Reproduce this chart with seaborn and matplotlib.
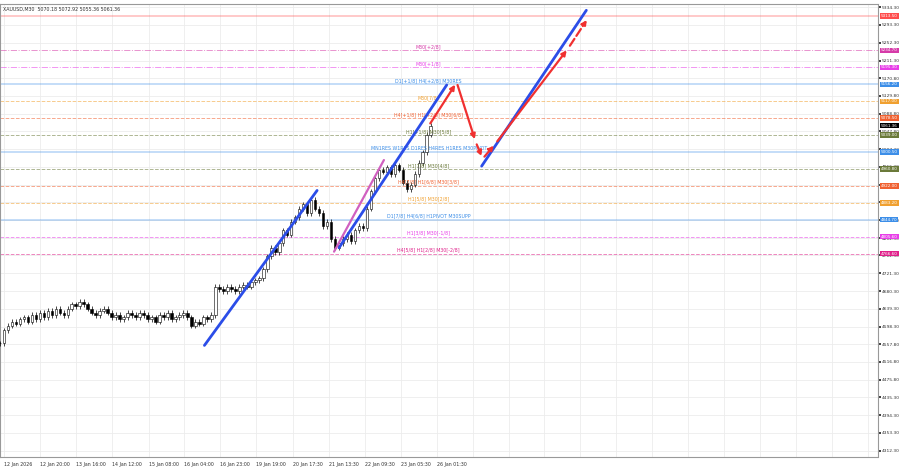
import numpy as np
import pandas as pd
import matplotlib.pyplot as plt
import seaborn as sns

# ---- data ----
closes = [4560, 4590, 4600, 4610, 4605, 4615,
          4620, 4610, 4625, 4615, 4630, 4620, 4635, 4625, 4640, 4630,
          4625, 4640, 4650, 4645, 4655, 4650, 4640, 4630, 4625, 4635,
          4640, 4630, 4620, 4625, 4615, 4620, 4630, 4625, 4620, 4630,
          4625, 4615, 4620, 4610, 4625, 4620, 4630, 4615, 4620, 4625,
          4630, 4620, 4600, 4610, 4605, 4620, 4615, 4625,
          4690, 4685, 4680, 4690, 4685, 4680, 4690, 4695, 4690, 4700,
          4705, 4710, 4730, 4760, 4780, 4770, 4790, 4820, 4810, 4840,
          4850, 4870, 4880, 4860, 4890, 4870, 4860, 4830, 4840, 4800,
          4780, 4790, 4800, 4810, 4795, 4820, 4830, 4825, 4870, 4910,
          4940, 4960, 4955, 4965, 4950, 4970, 4960, 4930, 4915, 4925,
          4950, 4975, 5000, 5040, 5061.36]

level_prices = [5313.5, 5234.7, 5195.3, 5156.2, 5117.0, 5078.5, 5039.0, 5000.5,
                4960.8, 4922.0, 4883.2, 4844.7, 4805.6, 4766.6]
level_labels = ["", "M30[+2/8]", "M30[+1/8]", "D1[+1/8] H4[+2/8] M30RES", "M30[7/8]",
                "H4[+1/8] H1[+2/8] M30[6/8]", "H1[+1/8] M30[5/8]",
                "MN1RES W1RES D1RES H4RES H1RES M30PIVOT", "H1[7/8] M30[4/8]",
                "H4[7/8] H1[6/8] M30[3/8]", "H1[5/8] M30[2/8]",
                "D1[7/8] H4[6/8] H1PIVOT M30SUPP", "H1[3/8] M30[-1/8]",
                "H4[5/8] H1[2/8] M30[-2/8]"]
level_colors = ["#ff4d4d", "#d63aa8", "#e83ee8", "#3c8ee8", "#f0a030", "#f06030", "#6b7a3a",
                "#3c8ee8", "#6b7a3a", "#f06030", "#f0a030", "#3c8ee8", "#e83ee8", "#e0208a"]
level_styles = ["-", "-.", "-.", "-", "--", "--", "--", "-", "--", "--", "--", "-", "--", "--"]

y_ticks = [5334.30, 5293.30, 5252.30, 5211.30, 5170.80, 5129.80, 5088.80, 5047.80, 5007.30,
           4966.30, 4925.30, 4884.30, 4843.30, 4802.30, 4762.30, 4721.30, 4680.30, 4639.30,
           4598.30, 4557.80, 4516.80, 4475.80, 4435.30, 4394.30, 4353.30, 4312.30]
x_tick_pos = [4, 40, 76, 112, 149, 185, 221, 257, 294, 330, 366, 402, 438]
x_tick_labels = ["12 Jan 2026", "12 Jan 20:00", "13 Jan 16:00", "14 Jan 12:00", "15 Jan 08:00",
                 "16 Jan 04:00", "16 Jan 23:00", "19 Jan 19:00", "20 Jan 17:30", "21 Jan 13:30",
                 "22 Jan 09:30", "23 Jan 05:30", "26 Jan 01:30"]

# channel lines and projected path (bar position, price)
blue_lines = [((205, 4555), (318, 4912)), ((340, 4780), (448, 5155)), ((483, 4968), (588, 5327))]
pink_line = ((335, 4771), (385, 4982))
red_path = [(430, 5061), (458, 5161), (477, 5024), (484, 4985), (497, 5020), (570, 5240), (590, 5310)]
red_dashed = [False, False, True, True, False, True]

sns.set_theme(style="white")
plt.rcParams['font.family'] = ['DejaVu Sans']

fig = plt.figure(figsize=(9, 4.74), dpi=100)
ax = fig.add_axes([0.0, 0.035, 0.975, 0.957])

df = pd.DataFrame({"close": closes})
df["x"] = np.linspace(0, 432, len(df))
df["open"] = df["close"].shift(1).fillna(df["close"])
df["hi"] = df[["open", "close"]].max(axis=1) + 6
df["lo"] = df[["open", "close"]].min(axis=1) - 6

# grid
for xp in x_tick_pos:
    ax.axvline(xp, color="#ececec", lw=0.6, zorder=0)
for xp in range(474, 880, 36):
    ax.axvline(xp, color="#ececec", lw=0.6, zorder=0)
for yt in y_ticks:
    ax.axhline(yt, color="#ececec", lw=0.6, zorder=0)

# levels
for p, lab, c, ls in zip(level_prices, level_labels, level_colors, level_styles):
    lw = 1.4 if ls == "-" else 0.7
    alpha = 0.3 if ls == "-" else 0.55
    ax.axhline(p, color=c, ls=ls, lw=lw, alpha=alpha, zorder=1)
    if lab:
        ax.text(430, p + 3, lab, color=c, fontsize=3.4, ha="center", va="bottom", zorder=5)
    ax.text(1.004, p, f"{p:.2f}", color="white", fontsize=3.0, va="center", ha="left",
            transform=ax.get_yaxis_transform(), zorder=10,
            bbox=dict(boxstyle="square,pad=0.2", fc=c, ec="none"), clip_on=False)
ax.text(1.004, closes[-1], f"{closes[-1]:.2f}", color="white", fontsize=3.0, va="center",
        ha="left", transform=ax.get_yaxis_transform(), zorder=10,
        bbox=dict(boxstyle="square,pad=0.2", fc="black", ec="none"), clip_on=False)

# candles
ax.vlines(df["x"], df["lo"], df["hi"], color="black", lw=0.5, zorder=3)
up = df["close"] >= df["open"]
ax.bar(df["x"][up], (df["close"] - df["open"])[up].clip(lower=1.5), bottom=df["open"][up],
       width=2.6, color="white", edgecolor="black", lw=0.4, zorder=4)
ax.bar(df["x"][~up], (df["open"] - df["close"])[~up], bottom=df["close"][~up],
       width=2.6, color="black", edgecolor="black", lw=0.4, zorder=4)

# channels
for (x0, y0), (x1, y1) in blue_lines:
    ax.plot([x0, x1], [y0, y1], color="#2b4de8", lw=2, zorder=6)
ax.plot([pink_line[0][0], pink_line[1][0]], [pink_line[0][1], pink_line[1][1]],
        color="#d060c0", lw=1.6, zorder=6)
for (x0, y0), (x1, y1), d in zip(red_path[:-1], red_path[1:], red_dashed):
    ax.annotate("", xy=(x1, y1), xytext=(x0, y0), zorder=7,
                arrowprops=dict(arrowstyle="-|>", color="#f03030", lw=1.6,
                                ls="--" if d else "-", mutation_scale=7))

ax.set_xlim(0, 880)
ax.set_ylim(4297, 5342)
ax.yaxis.tick_right()
ax.set_yticks(y_ticks)
ax.set_yticklabels([f"{t:.2f}" for t in y_ticks], fontsize=3.2, color="#333333")
ax.set_xticks(x_tick_pos)
ax.set_xticklabels(x_tick_labels, fontsize=3.4, color="#333333", ha="left")
ax.tick_params(length=2, pad=1)
for s in ax.spines.values():
    s.set_color("#999999")
    s.set_linewidth(0.8)
ax.text(3, 5336, "XAUUSD,M30  5070.18 5072.92 5055.36 5061.36", fontsize=3.4,
        va="top", color="#333333")

fig.savefig("out.png", dpi=100)
